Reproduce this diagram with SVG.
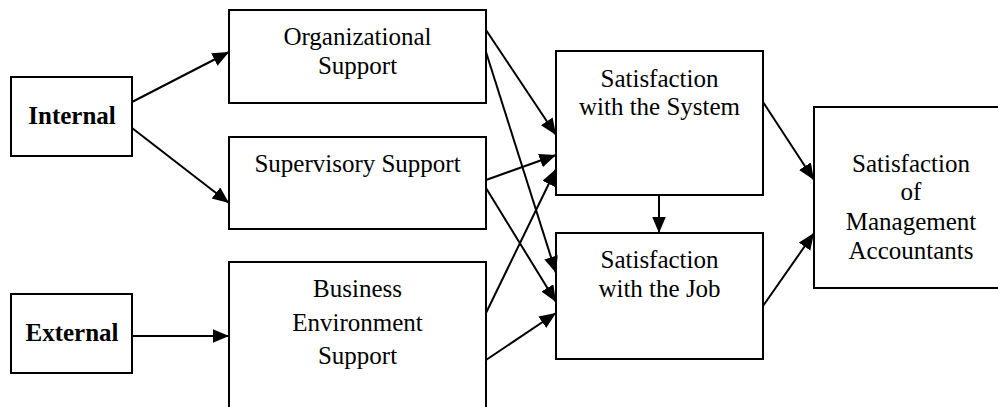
<svg xmlns="http://www.w3.org/2000/svg" width="998" height="407" viewBox="0 0 998 407">
<style>
  .box { fill: #ffffff; stroke: #000000; stroke-width: 2; }
  .t { font-family: "Liberation Serif", "Times New Roman", serif; font-size: 25px; fill: #000000; text-anchor: middle; }
  .b { font-weight: bold; }
  .c { stroke: #000000; stroke-width: 2; fill: none; marker-end: url(#arr); }
</style>
<defs>
  <marker id="arr" markerUnits="userSpaceOnUse" markerWidth="18" markerHeight="15" refX="16.5" refY="7" orient="auto">
    <path d="M0,0 L16.5,7 L0,14 Z" fill="#000000"/>
  </marker>
</defs>
<rect width="998" height="407" fill="#ffffff"/>
<g id="internal">
  <rect class="box" x="11" y="77" width="121" height="79"/>
  <text class="t b" x="72" y="124">Internal</text>
</g>
<g id="external">
  <rect class="box" x="11" y="294" width="121" height="79"/>
  <text class="t b" x="72" y="341">External</text>
</g>
<g id="organizational">
  <rect class="box" x="229" y="10" width="257" height="93"/>
  <text class="t" x="357.5" y="45">Organizational</text>
  <text class="t" x="357.5" y="73.5">Support</text>
</g>
<g id="supervisory">
  <rect class="box" x="229" y="137" width="257" height="92"/>
  <text class="t" x="357.5" y="172">Supervisory Support</text>
</g>
<g id="business">
  <rect class="box" x="229" y="262" width="257" height="160"/>
  <text class="t" x="357.5" y="297">Business</text>
  <text class="t" x="357.5" y="331">Environment</text>
  <text class="t" x="357.5" y="364">Support</text>
</g>
<g id="system">
  <rect class="box" x="556" y="51" width="207" height="144"/>
  <text class="t" x="659.5" y="87">Satisfaction</text>
  <text class="t" x="659.5" y="115">with the System</text>
</g>
<g id="job">
  <rect class="box" x="556" y="233" width="207" height="126"/>
  <text class="t" x="659.5" y="268">Satisfaction</text>
  <text class="t" x="659.5" y="297">with the Job</text>
</g>
<g id="management">
  <rect class="box" x="814" y="107" width="200" height="181"/>
  <text class="t" x="911" y="172">Satisfaction</text>
  <text class="t" x="911" y="200">of</text>
  <text class="t" x="911" y="229.5">Management</text>
  <text class="t" x="911" y="258.5">Accountants</text>
</g>
<g id="connectors">
  <line class="c" x1="132" y1="102" x2="229" y2="52"/>
  <line class="c" x1="132" y1="128" x2="229" y2="203"/>
  <line class="c" x1="132" y1="336" x2="229" y2="336"/>
  <line class="c" x1="486" y1="30" x2="556" y2="135"/>
  <line class="c" x1="486" y1="52" x2="556" y2="273"/>
  <line class="c" x1="486" y1="180" x2="556" y2="155"/>
  <line class="c" x1="486" y1="188" x2="556" y2="302"/>
  <line class="c" x1="486" y1="313" x2="556" y2="169"/>
  <line class="c" x1="486" y1="360" x2="556" y2="313"/>
  <line class="c" x1="659" y1="195" x2="659" y2="233"/>
  <line class="c" x1="763" y1="102" x2="814" y2="180"/>
  <line class="c" x1="763" y1="306" x2="814" y2="233"/>
</g>
</svg>
